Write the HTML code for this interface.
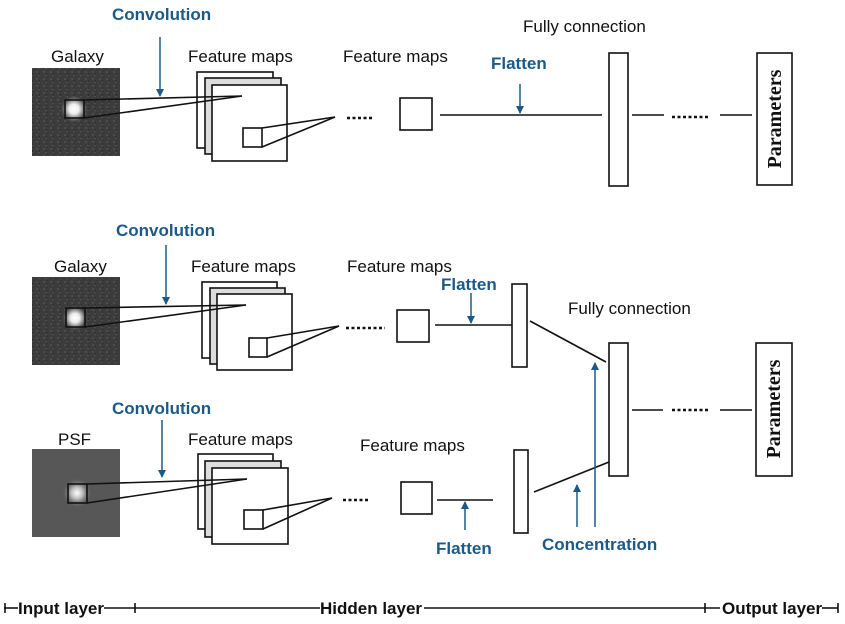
<!DOCTYPE html>
<html><head><meta charset="utf-8"><style>
html,body{margin:0;padding:0;background:#fff;}
svg{display:block;}
.t{font-family:"Liberation Sans",sans-serif;font-size:17px;fill:#111;}
.b{font-family:"Liberation Sans",sans-serif;font-size:17px;font-weight:bold;fill:#1b5a88;}
.k{font-family:"Liberation Sans",sans-serif;font-size:17px;font-weight:bold;fill:#111;}
.p{font-family:"Liberation Serif",serif;font-size:20px;font-weight:bold;fill:#111;}
</style></head><body>
<svg width="845" height="624" viewBox="0 0 845 624" xmlns="http://www.w3.org/2000/svg">
<defs>
<radialGradient id="gs" cx="0.5" cy="0.5" r="0.5">
<stop offset="0" stop-color="#fff"/><stop offset="0.35" stop-color="#eee"/><stop offset="0.7" stop-color="#777"/><stop offset="1" stop-color="#3c3c3c" stop-opacity="0"/>
</radialGradient>
<radialGradient id="ps" cx="0.5" cy="0.5" r="0.5">
<stop offset="0" stop-color="#fff"/><stop offset="0.4" stop-color="#bbb"/><stop offset="1" stop-color="#575757" stop-opacity="0"/>
</radialGradient>
<pattern id="nz" width="7" height="7" patternUnits="userSpaceOnUse">
<rect width="7" height="7" fill="#3c3c3c"/><rect x="1" y="1" width="2" height="2" fill="#4c4c4c"/><rect x="4" y="3" width="1" height="2" fill="#2f2f2f"/><rect x="3" y="5" width="2" height="1" fill="#515151"/><rect x="5" y="0" width="1" height="1" fill="#333"/>
</pattern>
<marker id="a" markerWidth="8" markerHeight="8" refX="7" refY="4" orient="auto" markerUnits="userSpaceOnUse"><path d="M0,0 L8,4 L0,8 Z" fill="#1b5a88"/></marker>
</defs>
<g stroke="#111" stroke-width="1.6" fill="none">
<!-- Panel 1 -->
<rect x="32" y="68" width="88" height="88" fill="url(#nz)" stroke="none"/>
<circle cx="74" cy="109" r="14" fill="url(#gs)" stroke="none"/>
<rect x="65" y="100" width="19" height="18"/>
<rect x="197" y="72" width="76" height="76" fill="#fff"/>
<rect x="205" y="78" width="76" height="76" fill="#ddd"/>
<rect x="212" y="85" width="75" height="76" fill="#fff"/>
<rect x="243" y="128" width="19" height="19"/>
<line x1="84" y1="100" x2="242" y2="96"/><line x1="84" y1="118" x2="242" y2="96"/>
<line x1="262" y1="128" x2="335" y2="117"/><line x1="262" y1="147" x2="335" y2="117"/>
<line x1="347" y1="118" x2="372" y2="118" stroke-dasharray="3,2.5" stroke-width="2.5"/>
<rect x="400" y="98" width="32" height="32"/>
<line x1="440" y1="115" x2="602" y2="115"/>
<rect x="609" y="53" width="19" height="133"/>
<line x1="632" y1="115" x2="664" y2="115"/>
<line x1="672" y1="117" x2="708" y2="117" stroke-dasharray="3,2.5" stroke-width="2.5"/>
<line x1="720" y1="115" x2="752" y2="115"/>
<rect x="757" y="53" width="35" height="132"/>
<!-- Panel 2 -->
<rect x="32" y="277" width="88" height="88" fill="url(#nz)" stroke="none"/>
<circle cx="75" cy="318" r="13" fill="url(#gs)" stroke="none"/>
<rect x="66" y="308" width="19" height="19"/>
<rect x="202" y="282" width="75" height="76" fill="#fff"/>
<rect x="210" y="288" width="75" height="76" fill="#ddd"/>
<rect x="217" y="294" width="75" height="76" fill="#fff"/>
<rect x="249" y="338" width="18" height="19"/>
<line x1="85" y1="308" x2="246" y2="305"/><line x1="85" y1="327" x2="246" y2="305"/>
<line x1="267" y1="338" x2="339" y2="326"/><line x1="267" y1="357" x2="339" y2="326"/>
<line x1="346" y1="328" x2="385" y2="328" stroke-dasharray="3,2.5" stroke-width="2.5"/>
<rect x="397" y="310" width="32" height="32"/>
<line x1="435" y1="325" x2="512" y2="325"/>
<rect x="512" y="284" width="15" height="83"/>
<line x1="530" y1="321" x2="606" y2="362"/>
<rect x="609" y="343" width="19" height="133"/>
<line x1="632" y1="410" x2="663" y2="410"/>
<line x1="672" y1="410" x2="710" y2="410" stroke-dasharray="3,2.5" stroke-width="2.5"/>
<line x1="720" y1="410" x2="752" y2="410"/>
<rect x="756" y="343" width="36" height="133"/>
<!-- Panel 3 -->
<rect x="32" y="449" width="88" height="88" fill="#575757" stroke="none"/>
<circle cx="77" cy="493" r="15" fill="url(#ps)" stroke="none"/>
<rect x="68" y="484" width="19" height="19"/>
<rect x="198" y="454" width="75" height="75" fill="#fff"/>
<rect x="205" y="461" width="76" height="76" fill="#ddd"/>
<rect x="212" y="468" width="76" height="76" fill="#fff"/>
<rect x="244" y="510" width="19" height="19"/>
<line x1="87" y1="484" x2="247" y2="479"/><line x1="87" y1="503" x2="247" y2="479"/>
<line x1="263" y1="510" x2="332" y2="498"/><line x1="263" y1="529" x2="332" y2="498"/>
<line x1="343" y1="500" x2="370" y2="500" stroke-dasharray="3,2.5" stroke-width="2.5"/>
<rect x="401" y="482" width="31" height="32"/>
<line x1="437" y1="500" x2="493" y2="500"/>
<rect x="514" y="450" width="14" height="83"/>
<line x1="534" y1="492" x2="609" y2="462"/>
<!-- axis -->
<line x1="4" y1="608" x2="18" y2="608"/><line x1="5" y1="603" x2="5" y2="613"/>
<line x1="104" y1="608" x2="320" y2="608"/><line x1="135" y1="603" x2="135" y2="613"/>
<line x1="424" y1="608" x2="720" y2="608"/><line x1="705" y1="603" x2="705" y2="613"/>
<line x1="822" y1="608" x2="838" y2="608"/><line x1="838" y1="603" x2="838" y2="613"/>
</g>
<g stroke="#1b5a88" stroke-width="1.5" fill="none">
<line x1="160" y1="37" x2="160" y2="96" marker-end="url(#a)"/>
<line x1="520" y1="84" x2="520" y2="113" marker-end="url(#a)"/>
<line x1="166" y1="245" x2="166" y2="304" marker-end="url(#a)"/>
<line x1="471" y1="293" x2="471" y2="323" marker-end="url(#a)"/>
<line x1="162" y1="420" x2="162" y2="477" marker-end="url(#a)"/>
<line x1="465" y1="530" x2="465" y2="502" marker-end="url(#a)"/>
<line x1="577" y1="527" x2="577" y2="485" marker-end="url(#a)"/>
<line x1="595" y1="527" x2="595" y2="363" marker-end="url(#a)"/>
</g>
<text class="b" x="112" y="20">Convolution</text>
<text class="t" x="51" y="62">Galaxy</text>
<text class="t" x="188" y="62">Feature maps</text>
<text class="t" x="343" y="62">Feature maps</text>
<text class="t" x="523" y="32">Fully connection</text>
<text class="b" x="491" y="69">Flatten</text>
<text class="p" transform="translate(781,119) rotate(-90)" text-anchor="middle">Parameters</text>
<text class="b" x="116" y="236">Convolution</text>
<text class="t" x="54" y="272">Galaxy</text>
<text class="t" x="191" y="272">Feature maps</text>
<text class="t" x="347" y="272">Feature maps</text>
<text class="b" x="441" y="290">Flatten</text>
<text class="t" x="568" y="314">Fully connection</text>
<text class="p" transform="translate(780,409) rotate(-90)" text-anchor="middle">Parameters</text>
<text class="b" x="112" y="414">Convolution</text>
<text class="t" x="58" y="445">PSF</text>
<text class="t" x="188" y="445">Feature maps</text>
<text class="t" x="360" y="451">Feature maps</text>
<text class="b" x="436" y="554">Flatten</text>
<text class="b" x="542" y="550">Concentration</text>
<text class="k" x="18" y="614">Input layer</text>
<text class="k" x="320" y="614">Hidden layer</text>
<text class="k" x="722" y="614">Output layer</text>
</svg>
</body></html>
